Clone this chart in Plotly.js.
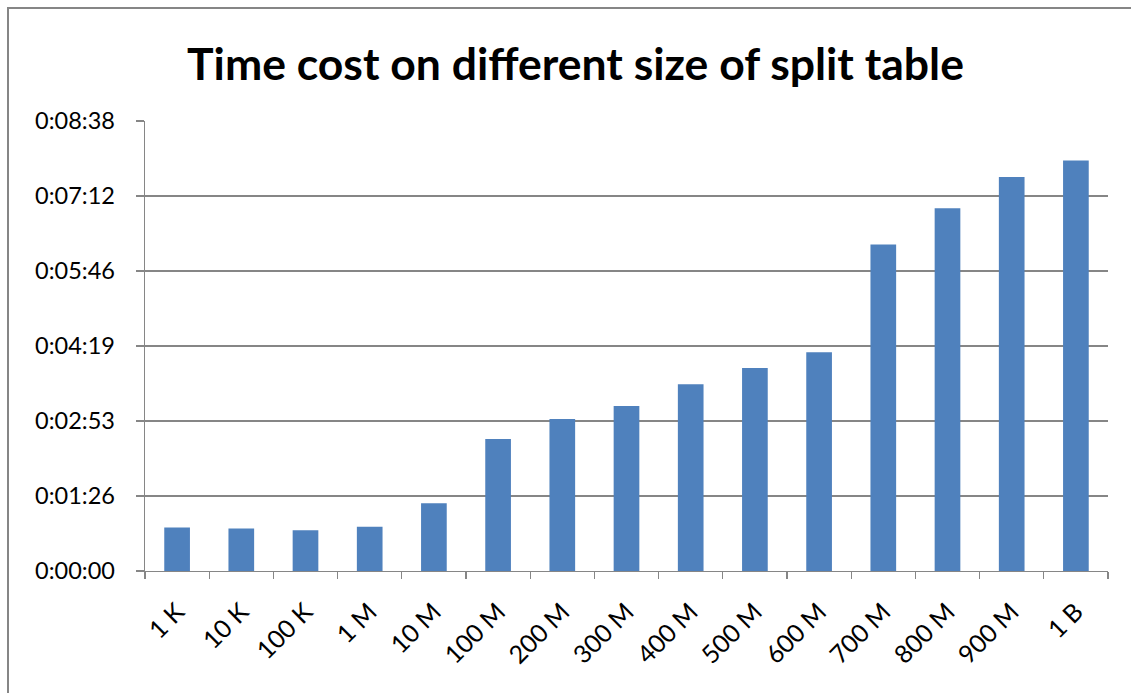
<!DOCTYPE html>
<html>
<head>
<meta charset="utf-8">
<script src="https://cdn.plot.ly/plotly-3.0.1.min.js"></script>
<style>
  html, body { margin: 0; padding: 0; width: 1131px; height: 693px; overflow: hidden; background: #ffffff; }
  #chart { position: absolute; left: 0; top: 0; width: 1131px; height: 693px; }
  #frame { position: absolute; left: 7px; top: 7px; width: 1200px; height: 800px;
           border: 2px solid #868686; pointer-events: none; }
</style>
</head>
<body>
<div id="chart"></div>
<div id="frame"></div>
<script>
// Split table sizes
const sizes = ["1 K", "10 K", "100 K", "1 M", "10 M", "100 M", "200 M", "300 M",
               "400 M", "500 M", "600 M", "700 M", "800 M", "900 M", "1 B"];
// Elapsed time for each size, in seconds
const seconds = [50, 49, 47, 51, 78, 152, 175, 190, 215, 234, 252, 376, 418, 454, 473];
// Axis ticks every 0.001 day (86.4 s), labelled as h:mm:ss
const tickSeconds = [0, 86.4, 172.8, 259.2, 345.6, 432, 518.4];
const tickLabels = ["0:00:00", "0:01:26", "0:02:53", "0:04:19", "0:05:46", "0:07:12", "0:08:38"];

const axisGray = "#868686";
const fontFamily = "Lato, 'Open Sans', sans-serif";

const trace = {
  type: "bar",
  x: sizes,
  y: seconds,
  marker: { color: "#4F81BD", line: { width: 0 } },
  hoverinfo: "skip"
};

const layout = {
  width: 1131,
  height: 693,
  margin: { l: 145, r: 23, t: 121, b: 122 },
  paper_bgcolor: "#ffffff",
  plot_bgcolor: "#ffffff",
  showlegend: false,
  bargap: 0.6,
  font: { family: fontFamily, color: "#000000", size: 23 },
  title: {
    text: "<b>Time cost on different size of split table</b>",
    font: { family: fontFamily, size: 44.5, color: "#000000" },
    xref: "container", yref: "container",
    x: 575.5 / 1131, xanchor: "center",
    y: 1 - 64 / 693, yanchor: "middle"
  },
  xaxis: {
    type: "category",
    tickangle: -45,
    tickson: "boundaries",
    ticks: "outside",
    ticklen: 7,
    tickwidth: 1.3,
    tickcolor: axisGray,
    showline: true,
    linecolor: axisGray,
    linewidth: 1.3,
    showgrid: false,
    ticklabelstandoff: 15,
    tickfont: { family: fontFamily, size: 25, color: "#000000" }
  },
  yaxis: {
    range: [0, 518.4],
    tickmode: "array",
    tickvals: tickSeconds,
    ticktext: tickLabels,
    ticks: "outside",
    ticklen: 8,
    tickwidth: 1.3,
    tickcolor: axisGray,
    showline: true,
    linecolor: axisGray,
    linewidth: 1.3,
    showgrid: true,
    gridcolor: axisGray,
    gridwidth: 1.3,
    zeroline: false,
    ticklabelstandoff: 16,
    tickfont: { family: fontFamily, size: 23.5, color: "#000000" }
  }
};

Plotly.newPlot("chart", [trace], layout, { staticPlot: true, displayModeBar: false });
</script>
</body>
</html>
